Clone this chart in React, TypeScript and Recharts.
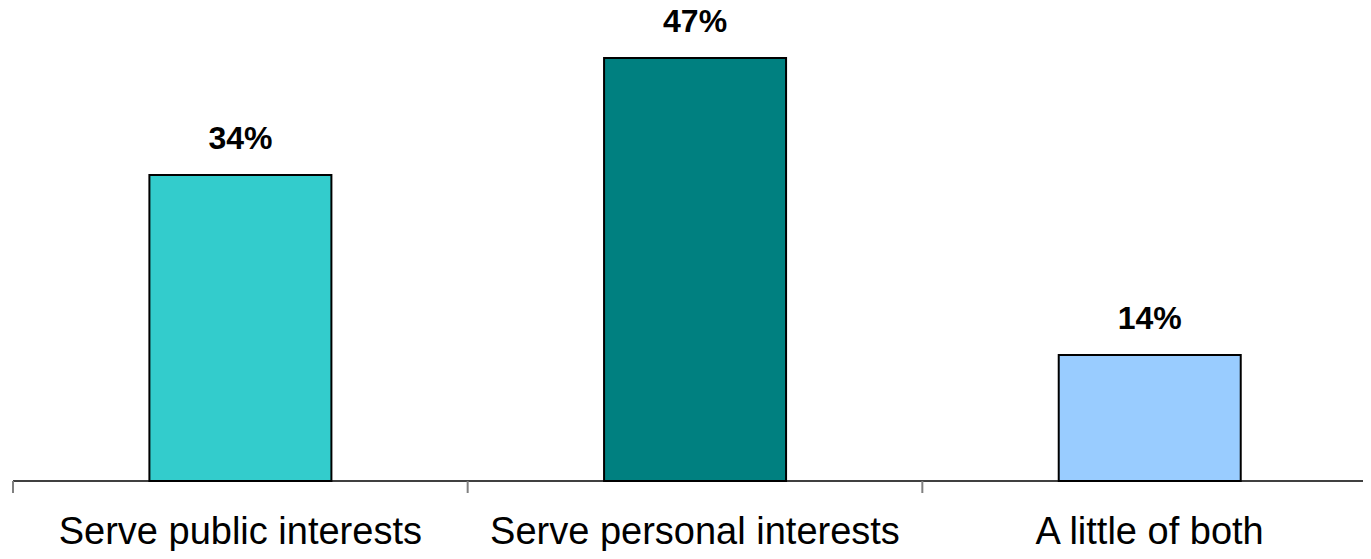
import { BarChart, Bar, XAxis, YAxis, Cell, LabelList } from 'recharts';

const categories = ['Serve public interests', 'Serve personal interests', 'A little of both'];
const shares = [34, 47, 14];
const barColors = ['#33CCCC', '#008080', '#99CCFF'];

const data = categories.map((name, i) => ({ name, value: shares[i] }));

const font = '"Liberation Sans", Arial, sans-serif';
const labelGap = 36;

// label under each bar plus a short tick at the left edge of its band
const CategoryTick = (props: any) => {
  const { x, y, payload } = props;
  const axisY = y - labelGap;
  const edgeX = payload.coordinate - (payload.offset ?? 0);
  return (
    <g>
      <line x1={edgeX} x2={edgeX} y1={axisY} y2={axisY + 12} stroke="#808080" strokeWidth={2} />
      <text x={x} y={y} dy="0.71em" textAnchor="middle" fill="#000" fontSize={38} fontFamily={font}>
        {payload.value}
      </text>
    </g>
  );
};

const App = () => {
  return (
    <div style={{ width: 1371, height: 559, overflow: 'hidden', margin: -8, background: '#fff' }}>
      <BarChart
        width={1382}
        height={559}
        data={data}
        margin={{ top: 31, right: 5, left: 13, bottom: 77 }}
        barCategoryGap="30%"
        style={{ fontFamily: font }}
      >
        <XAxis
          dataKey="name"
          height={1}
          tickLine={false}
          tickSize={0}
          tickMargin={labelGap}
          axisLine={{ stroke: '#000', strokeWidth: 1.5 }}
          tick={<CategoryTick />}
          interval={0}
        />
        <YAxis hide domain={[0, 50]} />
        <Bar dataKey="value" stroke="#000" strokeWidth={2} isAnimationActive={false}>
          {data.map((d, i) => (
            <Cell key={d.name} fill={barColors[i]} />
          ))}
          <LabelList
            dataKey="value"
            position="top"
            offset={26}
            formatter={(v: number) => `${v}%`}
            style={{ fill: '#000', fontSize: 32, fontWeight: 'bold', fontFamily: font }}
          />
        </Bar>
      </BarChart>
    </div>
  );
};

export default App;
